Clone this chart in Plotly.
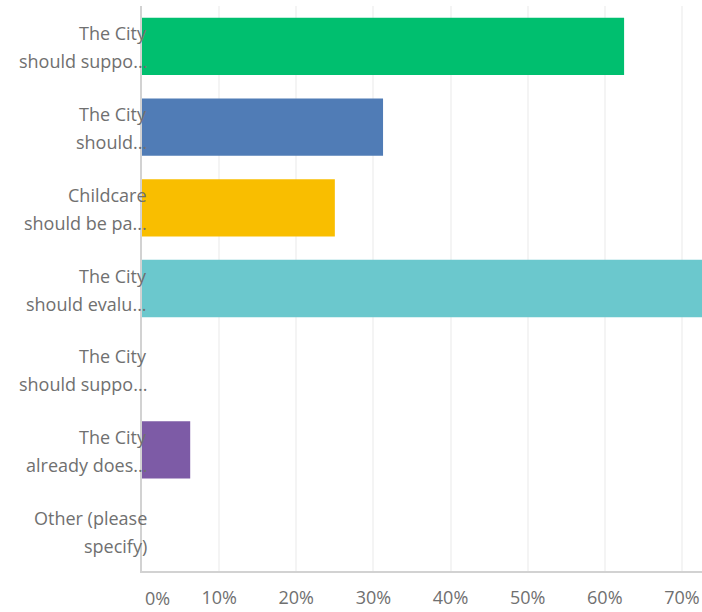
import plotly.graph_objects as go

# Answer options (two display lines each) and share of respondents (%)
label_line1 = ["The City", "The City", "Childcare", "The City", "The City", "The City", "Other (please"]
label_line2 = ["should suppo...", "should...", "should be pa...", "should evalu...",
               "should suppo...", "already does...", "specify)"]
shares = [62.5, 31.25, 25.0, 75.0, 0.0, 6.25, 0.0]
bar_colors = ["#00bf6f", "#507cb6", "#f9be00", "#6bc8cd", "#ff8b4f", "#7d5ba6", "#c4d95b"]
tick_values = [0, 10, 20, 30, 40, 50, 60, 70]
tick_labels = ["0%", "10%", "20%", "30%", "40%", "50%", "60%", "70%"]

rows = list(range(len(shares)))
text_color = "#707070"
font_family = "Open Sans, Lato, sans-serif"
font_size = 18

fig = go.Figure(
    go.Bar(
        x=shares,
        y=rows,
        orientation="h",
        marker=dict(color=bar_colors, line=dict(width=0)),
        hoverinfo="skip",
    )
)

annotations = []
for r, a, b in zip(rows, label_line1, label_line2):
    for txt, dy in ((a, 13), (b, -15)):
        annotations.append(dict(
            xref="paper", x=0, xanchor="right", xshift=7,
            yref="y", y=r, yanchor="middle", yshift=dy,
            text=txt, showarrow=False,
            font=dict(family=font_family, size=font_size, color=text_color),
        ))
# the 0% label sits just right of the axis corner
annotations.append(dict(
    xref="x", x=tick_values[0], xanchor="center", xshift=15,
    yref="paper", y=0, yanchor="middle", yshift=-27,
    text=tick_labels[0], showarrow=False,
    font=dict(family=font_family, size=font_size, color=text_color),
))

fig.update_layout(
    width=702, height=612,
    margin=dict(l=142, r=0, t=6, b=41),
    paper_bgcolor="white", plot_bgcolor="white",
    bargap=0.29,
    showlegend=False,
    annotations=annotations,
    font=dict(family=font_family, size=font_size, color=text_color),
)
fig.update_xaxes(
    range=[0, 72.6],
    tickvals=tick_values,
    ticktext=[""] + tick_labels[1:],
    showgrid=True, gridcolor="#f4f4f4", gridwidth=1.5,
    zeroline=False,
    showline=True, linecolor="#d2d2d2", linewidth=1.5,
    ticks="", ticklabelstandoff=10,
    tickfont=dict(family=font_family, size=font_size, color=text_color),
    fixedrange=True,
)
fig.update_yaxes(
    range=[len(shares) - 0.5, -0.5],
    showticklabels=False, showgrid=False, zeroline=False,
    showline=True, linecolor="#d2d2d2", linewidth=1.5,
    ticks="",
    fixedrange=True,
)

fig.write_html("out.html")
